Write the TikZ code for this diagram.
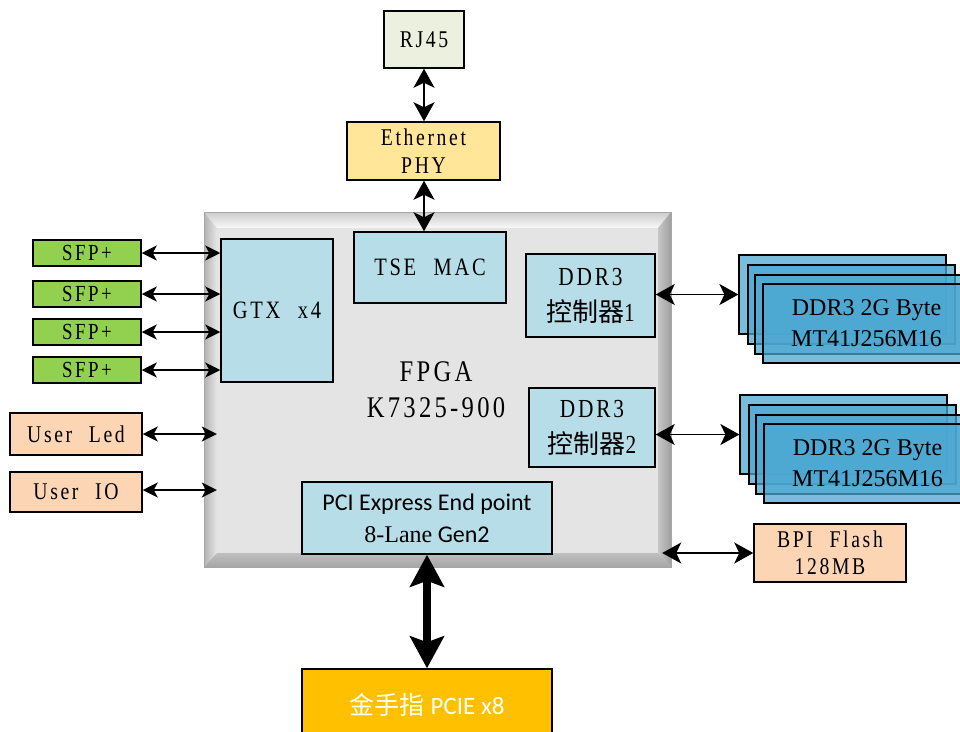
\documentclass[tikz,border=0pt]{standalone}
\usepackage{fontspec}
\setmainfont{Liberation Serif}
\newfontfamily\song[FakeStretch=0.82,LetterSpace=11,WordSpace=2.2]{Liberation Serif}
\newfontfamily\cjk{Noto Sans CJK SC}
\newfontfamily\carlito{Carlito}
\usetikzlibrary{arrows.meta}
\definecolor{rjfill}{HTML}{EBF1DE}
\definecolor{phyfill}{HTML}{FFE699}
\definecolor{ipfill}{HTML}{B7DEE8}
\definecolor{sfpfill}{HTML}{92D050}
\definecolor{peach}{HTML}{FCD5B5}
\definecolor{ddrfill}{HTML}{4DA8D2}
\definecolor{gold}{HTML}{FFC000}
\definecolor{facefill}{HTML}{E4E4E4}
\newcommand\mybox[7]{\node[#2,minimum width=#5pt-#3pt,minimum height=#6pt-#4pt] (#1) at ({(#3+#5)/2},{(#4+#6)/2}) {#7};}
\newcommand\fs[2]{\fontsize{#1}{#2}\selectfont}
\begin{document}
\begin{tikzpicture}[x=1pt,y=-1pt,
  blk/.style={draw=black,line width=1.5pt,inner sep=0pt,align=center},
  ddrbox/.style={draw=black,line width=1.2pt,fill=ddrfill,fill opacity=0.75,text opacity=1,inner sep=0pt,align=center},
  bi/.style={{Stealth[length=15pt,width=15pt,inset=4pt]}-{Stealth[length=15pt,width=15pt,inset=4pt]},line width=1.4pt},
  bibig/.style={{Stealth[length=19pt,width=21pt,inset=5pt]}-{Stealth[length=19pt,width=21pt,inset=5pt]},line width=2pt},
  bithick/.style={{Stealth[length=32pt,width=34pt,inset=6pt]}-{Stealth[length=32pt,width=34pt,inset=6pt]},line width=8pt}]
\useasboundingbox (0,0) rectangle (960,731);
\clip (0,0) rectangle (960,731);
\fill[white] (0,0) rectangle (960,731);

% FPGA bevelled block
\shade[top color=gray!40,bottom color=gray!5] (204,212) -- (671,212) -- (658,228) -- (217,228) -- cycle;
\shade[left color=gray!60,right color=gray!20] (204,212) -- (217,228) -- (217,553) -- (204,567) -- cycle;
\shade[left color=gray!45,right color=gray!75] (671,212) -- (658,228) -- (658,553) -- (671,567) -- cycle;
\shade[top color=gray!50,bottom color=gray!70] (204,567) -- (217,553) -- (658,553) -- (671,567) -- cycle;
\mybox{face}{inner sep=0pt,fill=facefill}{217}{228}{658}{553}{}
\draw[gray!70,line width=0.8pt] (204,212) rectangle (671,567);
\node[align=center,font=\song\fs{30}{36}] (fpgatext) at (436,390) {FPGA\\K7325-900};

% inner IP blocks
\mybox{gtx}{blk,fill=ipfill,font=\song\fs{25}{30}}{221}{239}{333}{382}{GTX x4}
\mybox{tse}{blk,fill=ipfill,font=\song\fs{25}{30}}{354}{232}{506}{303}{TSE MAC}
\mybox{ctrlA}{blk,fill=ipfill,font=\fs{26}{36}}{526}{254}{655}{337}{{\song DDR3}\\{\cjk 控制器}{\song 1}}
\mybox{ctrlB}{blk,fill=ipfill,font=\fs{26}{36}}{529}{388}{655}{467}{{\song DDR3}\\{\cjk 控制器}{\song 2}}
\mybox{pcie}{blk,fill=ipfill,font=\carlito\fs{24}{32}}{302}{482}{552}{554}{PCI Express End point\\{\rmfamily 8-Lane} Gen2}

% top chain
\mybox{rj}{blk,fill=rjfill,font=\song\fs{24}{28}}{384}{11}{464}{68}{RJ45}
\mybox{phy}{blk,fill=phyfill,font=\song\fs{24}{28}}{347}{122}{500}{180}{Ethernet\\PHY}

% left side
\mybox{sfpA}{blk,fill=sfpfill,font=\song\fs{23}{26}}{33}{240}{141}{266}{SFP+}
\mybox{sfpB}{blk,fill=sfpfill,font=\song\fs{23}{26}}{33}{281}{141}{307}{SFP+}
\mybox{sfpC}{blk,fill=sfpfill,font=\song\fs{23}{26}}{33}{319}{141}{345}{SFP+}
\mybox{sfpD}{blk,fill=sfpfill,font=\song\fs{23}{26}}{33}{357}{141}{383}{SFP+}
\mybox{uled}{blk,fill=peach,font=\song\fs{24}{26}}{10}{413}{142}{455}{User Led}
\mybox{uio}{blk,fill=peach,font=\song\fs{24}{26}}{10}{472}{142}{512}{User IO}

% DDR stacks
\mybox{ddrAa}{ddrbox}{739}{255}{946}{334}{}
\mybox{ddrAb}{ddrbox}{748}{265}{955}{344}{}
\mybox{ddrAc}{ddrbox}{755}{275}{962}{354}{}
\mybox{ddrAd}{ddrbox,font=\fs{24}{31}}{763}{284}{970}{363}{DDR3 2G Byte\\MT41J256M16}
\mybox{ddrBa}{ddrbox}{740}{395}{947}{474}{}
\mybox{ddrBb}{ddrbox}{749}{405}{956}{484}{}
\mybox{ddrBc}{ddrbox}{756}{415}{963}{494}{}
\mybox{ddrBd}{ddrbox,font=\fs{24}{31}}{764}{424}{971}{503}{DDR3 2G Byte\\MT41J256M16}

% BPI flash and gold finger
\mybox{bpi}{blk,fill=peach,font=\song\fs{24}{27}}{754}{524}{906}{582}{BPI Flash\\128MB}
\mybox{gold}{blk,fill=gold}{302}{669}{552}{745}{}
\node[text=white,font=\fs{25}{28}] (goldtext) at (427,705) {{\cjk 金手指} {\carlito PCIE x8}};

% connectors
\draw[bibig] (rj.south) -- (phy.north -| rj.south);
\draw[bibig] (phy.south -| rj.south) -- (tse.north -| rj.south);
\foreach \s in {sfpA,sfpB,sfpC,sfpD}{\draw[bi] (\s.east) -- (\s.east -| gtx.west);}
\draw[bi] (uled.east) -- (uled.east -| face.west);
\draw[bi] (uio.east) ++(0,-2) coordinate (uioe) -- (uioe -| face.west);
\draw[bibig,line width=1.5pt] (ctrlA.east |- ddrAa.west) -- (ddrAa.west);
\draw[bibig,line width=1.5pt] (ctrlB.east |- ddrBa.west) -- (ddrBa.west);
\draw[bibig,line width=1.5pt] (face.east |- bpi.west) ++(4,0) coordinate (bpie) -- (bpi.west);
\draw[bithick] (pcie.south) -- (gold.north);
\end{tikzpicture}
\end{document}
